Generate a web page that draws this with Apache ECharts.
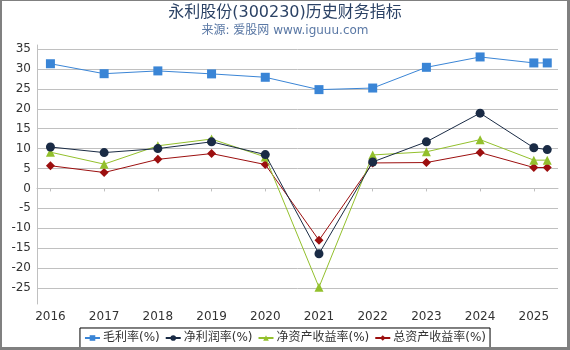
<!DOCTYPE html>
<html><head><meta charset="utf-8">
<script src="https://cdn.jsdelivr.net/npm/echarts@6/dist/echarts.min.js"></script>
<style>
html,body{margin:0;padding:0;background:#fff;}
#c{width:570px;height:350px;position:relative;}
.b{position:absolute;background:#808080;}
</style></head>
<body>
<div id="c"></div>
<div class="b" style="left:0;top:0;width:570px;height:1px"></div>
<div class="b" style="left:0;top:0;width:2px;height:350px"></div>
<div class="b" style="left:567px;top:0;width:3px;height:350px"></div>
<div class="b" style="left:0;top:347px;width:570px;height:3px"></div>
<script>
var years = [2016, 2017, 2018, 2019, 2020, 2021, 2022, 2023, 2024, 2025, 2025.25];
var xTicks = [2016, 2017, 2018, 2019, 2020, 2021, 2022, 2023, 2024, 2025];
var yTicks = [-25, -20, -15, -10, -5, 0, 5, 10, 15, 20, 25, 30, 35];
var grossMargin = [31.3, 28.8, 29.5, 28.75, 27.9, 24.8, 25.2, 30.4, 33.0, 31.5, 31.5];
var netMargin = [10.4, 9.0, 10.0, 11.7, 8.5, -16.4, 6.65, 11.7, 18.9, 10.2, 9.75];
var roe = [9.1, 6.1, 10.7, 12.4, 7.9, -24.8, 8.4, 9.2, 12.25, 7.1, 7.1];
var roa = [5.7, 4.0, 7.3, 8.75, 6.0, -13.0, 6.4, 6.5, 9.0, 5.25, 5.25];
var names = ['毛利率(%)', '净利润率(%)', '净资产收益率(%)', '总资产收益率(%)'];
var colors = ['#3a85d6', '#1a2b45', '#93c02c', '#9c0f0f'];
var symbols = ['rect', 'circle', 'triangle', 'diamond'];
var sizes = [9, 9, 9, 9];
var values = [grossMargin, netMargin, roe, roa];

function pairs(v){ return years.map(function(y,i){ return [y, v[i]]; }); }

var chart = echarts.init(document.getElementById('c'), null, {renderer:'canvas'});
var font = '"DejaVu Sans", "Noto Sans CJK SC", sans-serif';
chart.setOption({
  animation: false,
  backgroundColor: '#fff',
  title: {
    text: '永利股份(300230)历史财务指标',
    subtext: '来源: 爱股网 www.iguuu.com',
    left: 'center', top: 0, itemGap: 4,
    textStyle: {fontSize: 16, fontWeight: 'normal', color: '#2b4265', fontFamily: font},
    subtextStyle: {fontSize: 12, color: '#5a78a5', fontFamily: font}
  },
  legend: {
    bottom: 2, left: 'center',
    data: names,
    borderColor: '#000', borderWidth: 1, borderRadius: 0,
    padding: [4, 4, 4, 4],
    itemGap: 5, itemWidth: 15, itemHeight: 7,
    textStyle: {fontSize: 12, color: '#333', fontFamily: font, padding: [0, 0, 0, -2]}
  },
  grid: {left: 37, right: 12, top: 45, bottom: 46, containLabel: false},
  xAxis: {
    type: 'value', min: 2015.75, max: 2025.45,
    axisLine: {show: true, lineStyle: {color: '#c0c0c0'}},
    axisTick: {show: true, length: 3, lineStyle: {color: '#c0c0c0'}, customValues: xTicks},
    axisLabel: {customValues: xTicks, fontSize: 12, color: '#333', fontFamily: font, margin: 7,
      formatter: function(v){ return String(v); }},
    splitLine: {show: false}
  },
  yAxis: {
    type: 'value', min: -29, max: 36,
    axisLine: {show: true, lineStyle: {color: '#c0c0c0'}},
    axisTick: {show: false, customValues: yTicks},
    axisLabel: {customValues: yTicks, fontSize: 12, color: '#333', fontFamily: font, margin: 6},
    splitLine: {show: true, lineStyle: {color: '#c0c0c0', width: 1}}
  },
  series: names.map(function(n, k){
    return {
      name: n, type: 'line', data: pairs(values[k]),
      symbol: symbols[k], symbolSize: sizes[k], showAllSymbol: true,
      itemStyle: {color: colors[k]},
      lineStyle: {color: colors[k], width: 1},
      z: 10 - k
    };
  })
});
</script>
</body></html>
